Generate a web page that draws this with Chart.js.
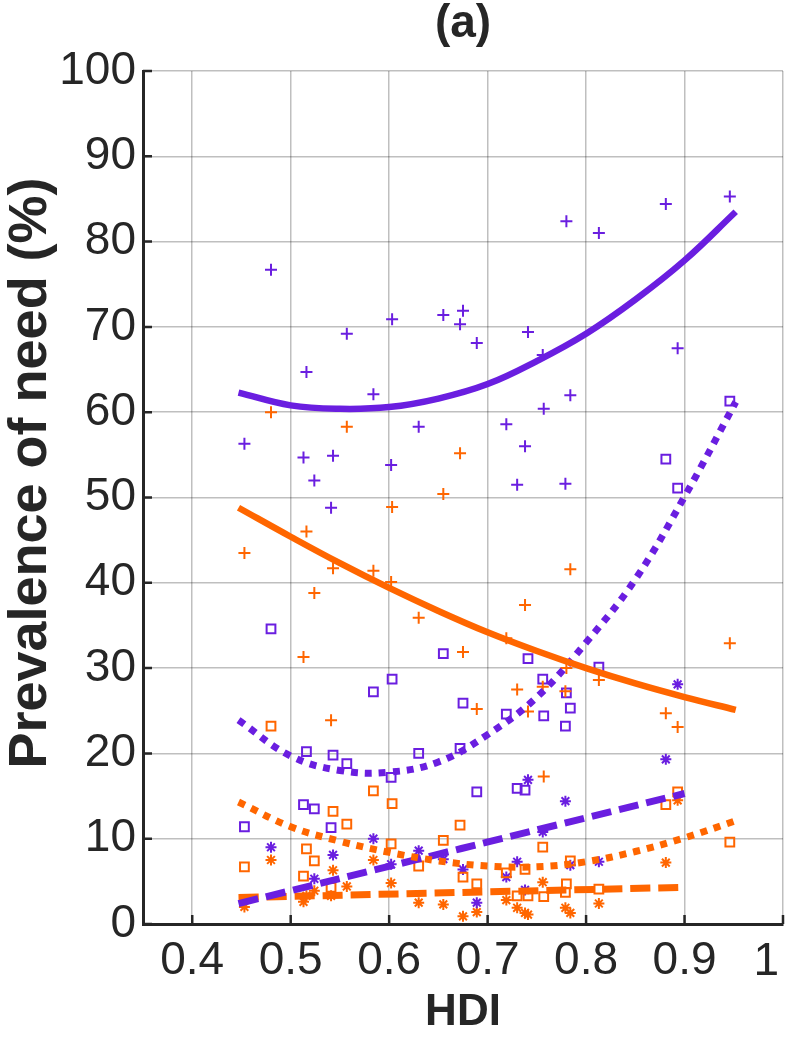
<!DOCTYPE html>
<html>
<head>
<meta charset="utf-8">
<script src="https://cdn.jsdelivr.net/npm/chart.js@4.4.1/dist/chart.umd.min.js"></script>
<style>
  html, body { margin: 0; padding: 0; background: #fff; }
  #wrap { width: 786px; height: 1043px; }
</style>
</head>
<body>
<div id="wrap"><canvas id="chart"></canvas></div>
<script>
// DATA
const hdi = [0.453, 0.480, 0.513, 0.516, 0.524, 0.541, 0.543, 0.557, 0.584, 0.602,
  0.603, 0.630, 0.655, 0.672, 0.675, 0.689, 0.719, 0.730, 0.738, 0.741,
  0.756, 0.757, 0.779, 0.780, 0.784, 0.813, 0.881, 0.893, 0.946]

const purplePlus = [56.3, 76.7, 54.7, 64.7, 52.0, 48.8, 54.9, 69.2, 62.1, 53.8,
  70.9, 58.3, 71.4, 70.3, 71.9, 68.1, 58.6, 51.5, 56.0, 69.4,
  66.7, 60.4, 51.6, 82.4, 62.0, 81.0, 84.4, 67.5, 85.3]
const orangePlus = [43.5, 60.0, 31.3, 46.0, 38.8, 23.9, 41.7, 58.3, 41.4, 40.1,
  48.9, 35.9, 50.4, 55.2, 31.9, 25.2, 33.5, 27.5, 37.4, 24.9,
  27.8, 17.3, 27.3, 30.0, 41.6, 28.6, 24.7, 23.1, 32.9]
const purpleSquare = [11.4, 34.6, 14.0, 20.2, 13.5, 11.3, 19.8, 18.8, 27.2, 17.2,
  28.7, 20.0, 31.7, 20.6, 25.9, 15.5, 24.6, 15.9, 15.7, 31.1,
  28.7, 24.4, 23.2, 27.1, 25.3, 30.1, 54.5, 51.1, 61.3]
const orangeSquare = [6.7, 23.2, 5.6, 8.8, 7.4, 4.3, 13.2, 11.7, 15.6, 9.4,
  14.1, 6.8, 9.8, 11.6, 5.5, 4.7, 6.0, 3.3, 6.4, 3.3,
  9.0, 3.2, 3.7, 4.7, 7.4, 4.1, 14.0, 15.5, 9.6]
const purpleStar = [null, 9.0, null, null, 5.3, null, 8.1, null, 10.0, 7.0,
  null, 8.6, 7.6, null, 6.4, 2.5, 5.5, 7.3, 4.0, 16.9,
  10.8, null, 14.4, null, 6.9, 7.3, 19.3, 28.1, null]
const orangeStar = [2.0, 7.5, 2.6, 3.3, 3.9, 3.3, 6.3, 4.4, 7.5, 4.8,
  null, 2.5, 2.3, null, 0.9, 1.4, 2.8, 1.9, 1.3, 1.1,
  4.9, null, 1.9, null, 1.3, 2.4, 7.2, 14.5, null]

// fitted curves
const fitX = [0.447, 0.5, 0.55, 0.6, 0.65, 0.7, 0.75, 0.8, 0.85, 0.9, 0.952]
const purpleSolid = [62.3, 60.8, 60.4, 60.6, 61.6, 63.3, 66.0, 69.2, 73.2, 77.8, 83.5]
const orangeSolid = [48.8, 45.4, 42.3, 39.4, 36.7, 34.2, 32.0, 30.0, 28.2, 26.6, 25.1]
const purpleDotted = [23.9, 19.7, 18.0, 17.8, 19.0, 22.2, 26.6, 33.0, 40.4, 50.1, 61.2]
const orangeDotted = [14.3, 11.4, 9.7, 8.4, 7.4, 6.8, 6.7, 7.3, 8.5, 10.1, 12.1]
const dashX = [0.447, 0.9]
const purpleDashed = [2.4, 15.3]
const orangeDashed = [3.1, 4.3]

const xTicks = [0.4, 0.5, 0.6, 0.7, 0.8, 0.9, 1]

const PURPLE = 'rgb(106, 30, 224)'
const ORANGE = 'rgb(255, 102, 0)'
const INK = '#262626'
const FONT = '"Liberation Sans", Arial, sans-serif'

const pts = (xs, ys) => xs.map((x, i) => ({ x: x, y: ys[i] })).filter(p => p.y !== null)

function marks(data, color, style, radius) {
  return {
    type: 'scatter', data: pts(hdi, data), order: 2,
    pointStyle: style, pointRadius: radius, pointHoverRadius: radius,
    borderColor: color, backgroundColor: 'rgba(0,0,0,0)', borderWidth: 2
  }
}

function fit(xs, ys, color, dash, width) {
  return {
    type: 'line', data: pts(xs, ys), order: 1,
    borderColor: color, borderWidth: width, borderDash: dash, borderCapStyle: 'butt',
    pointRadius: 0, tension: 0.4, fill: false
  }
}

// inner tick marks, last x label, panel title and y label
const extras = {
  id: 'extras',
  afterDraw(chart) {
    const { ctx, chartArea: a, scales: { x, y } } = chart
    ctx.save()
    ctx.strokeStyle = INK
    ctx.lineWidth = 2.5
    ctx.beginPath()
    xTicks.forEach(v => {
      const px = x.getPixelForValue(v)
      ctx.moveTo(px, a.bottom); ctx.lineTo(px, a.bottom - 9)
    })
    for (let v = 0; v <= 100; v += 10) {
      const py = y.getPixelForValue(v)
      ctx.moveTo(a.left, py); ctx.lineTo(a.left + 9, py)
    }
    ctx.stroke()
    ctx.fillStyle = INK
    ctx.textAlign = 'right'
    ctx.textBaseline = 'middle'
    ctx.font = '46px ' + FONT
    const last = xTicks[xTicks.length - 1]
    ctx.fillText(String(last), 779, 962)
    ctx.textAlign = 'center'
    ctx.font = 'bold 46px ' + FONT
    ctx.fillText('(a)', 463, 24)
    ctx.translate(31, 473)
    ctx.rotate(-Math.PI / 2)
    ctx.font = 'bold 54px ' + FONT
    ctx.fillText('Prevalence of need (%)', 0, 0)
    ctx.restore()
  }
}

const chart = new Chart(document.getElementById('chart'), {
  data: {
    datasets: [
      fit(fitX, purpleSolid, PURPLE, [], 6.5),
      fit(fitX, orangeSolid, ORANGE, [], 6.5),
      fit(fitX, purpleDotted, PURPLE, [7, 7], 7),
      fit(fitX, orangeDotted, ORANGE, [7, 7], 7),
      fit(dashX, purpleDashed, PURPLE, [20, 8], 7),
      fit(dashX, orangeDashed, ORANGE, [20, 8], 7),
      marks(purplePlus, PURPLE, 'cross', 6),
      marks(orangePlus, ORANGE, 'cross', 6),
      marks(purpleSquare, PURPLE, 'rect', 6.2),
      marks(orangeSquare, ORANGE, 'rect', 6.2),
      marks(purpleStar, PURPLE, 'star', 5.5),
      marks(orangeStar, ORANGE, 'star', 5.5)
    ]
  },
  options: {
    responsive: true,
    maintainAspectRatio: false,
    animation: false,
    layout: { autoPadding: false, padding: { top: 71, right: 3, left: 0, bottom: 0 } },
    plugins: { legend: { display: false }, tooltip: { enabled: false } },
    scales: {
      x: {
        type: 'linear', min: 0.35, max: 1,
        afterBuildTicks: s => { s.ticks = xTicks.map(v => ({ value: v })) },
        afterFit: s => { s.height = 119; s.paddingRight = 0; s.paddingLeft = 0 },
        grid: { color: 'rgba(0,0,0,0.25)', lineWidth: 1.5, drawTicks: false },
        border: { display: true, color: INK, width: 3 },
        ticks: {
          color: INK, padding: 10, font: { family: FONT, size: 46 },
          callback: v => v === 1 ? '' : v.toFixed(1)
        },
        title: {
          display: true, text: 'HDI', color: INK, padding: { top: 0, bottom: 4 },
          font: { family: FONT, size: 44, weight: 'bold' }
        }
      },
      y: {
        type: 'linear', min: 0, max: 100,
        ticks: { stepSize: 10, color: INK, padding: 7, font: { family: FONT, size: 46 } },
        afterFit: s => { s.width = 143 },
        grid: { color: 'rgba(0,0,0,0.25)', lineWidth: 1.5, drawTicks: false },
        border: { display: true, color: INK, width: 3 }
      }
    }
  },
  plugins: [extras]
})
</script>
</body>
</html>
